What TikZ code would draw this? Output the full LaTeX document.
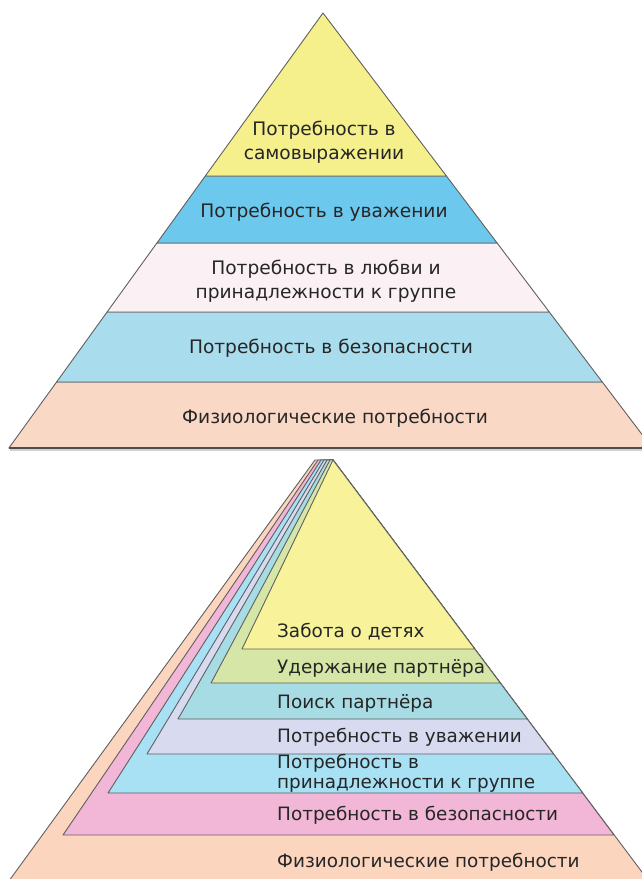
\documentclass[tikz,border=0pt]{standalone}
\usepackage{fontspec}
\setmainfont{DejaVu Sans}
\definecolor{tyellow}{HTML}{F5F08C}
\definecolor{tblue}{HTML}{6CC8EC}
\definecolor{twhite}{HTML}{FBF1F4}
\definecolor{tlblue}{HTML}{A9DCEC}
\definecolor{tpeach}{HTML}{FAD8C6}
\definecolor{byellow}{HTML}{F8F39A}
\definecolor{bgreen}{HTML}{D6E6A6}
\definecolor{bteal}{HTML}{A8DCE4}
\definecolor{blav}{HTML}{D8DBF0}
\definecolor{blblue}{HTML}{A8E0F4}
\definecolor{bpink}{HTML}{F2B6D6}
\definecolor{bpeach}{HTML}{FBD5BE}
\definecolor{edge}{HTML}{606060}
\definecolor{txt}{HTML}{262626}
\begin{document}
\begin{tikzpicture}[x=1pt,y=-1pt,
  layer/.style={draw=edge, line width=0.9pt, line join=round},
  lbl/.style={inner sep=0pt, text=txt, font=\fontsize{18.6}{23.5}\selectfont},
  lblb/.style={inner sep=0pt, text=txt, font=\fontsize{18.4}{20}\selectfont, anchor=west, align=left},
]
\useasboundingbox (0,0) rectangle (642,879);
\fill[white] (0,0) rectangle (642,879);
\begin{scope}
\clip (0,0) rectangle (642,879);
% ---------- top pyramid ----------
\draw[draw=black!18, line width=2pt] (10,449.6) -- (652,449.6);
\path[layer, fill=tpeach] (56.6,382) -- (602.3,382) -- (652.3,448) -- (8.9,448) -- cycle;
\path[layer, fill=tlblue] (107.1,312) -- (549.3,312) -- (602.3,382) -- (56.6,382) -- cycle;
\path[layer, fill=twhite] (156.9,243) -- (497.1,243) -- (549.3,312) -- (107.1,312) -- cycle;
\path[layer, fill=tblue] (205.3,176) -- (446.4,176) -- (497.1,243) -- (156.9,243) -- cycle;
\path[layer, fill=tyellow] (323,13) -- (446.4,176) -- (205.3,176) -- cycle;
\draw[draw=edge!80!black, line width=1.3pt] (8.9,448) -- (652,448);

\node[lbl, align=center] (t1) at (324,142) {Потребность в\\самовыражении};
\node[lbl] (t2) at (324,212) {Потребность в уважении};
\node[lbl, align=center] (t3) at (326,281) {Потребность в любви и\\принадлежности к группе};
\node[lbl] (t4) at (331,348) {Потребность в безопасности};
\node[lbl] (t5) at (335,418) {Физиологические потребности};

% ---------- bottom pyramid ----------
\path[layer, fill=bpeach] (315,460) -- (333,460) -- (660,896) -- (-2,896) -- cycle;
\path[layer, fill=bpink] (318,460) -- (333,460) -- (614,835) -- (63,835) -- cycle;
\path[layer, fill=blblue] (321,460) -- (333,460) -- (582.8,793) -- (108,793) -- cycle;
\path[layer, fill=blav] (324,460) -- (333,460) -- (553.5,754) -- (147,754) -- cycle;
\path[layer, fill=bteal] (327,460) -- (333,460) -- (527.3,719) -- (178,719) -- cycle;
\path[layer, fill=bgreen] (330,460) -- (333,460) -- (500.3,683) -- (211,683) -- cycle;
\path[layer, fill=byellow] (333,460) -- (474.8,649) -- (242,649) -- cycle;

\node[lblb] (b1) at (277,632) {Забота о детях};
\node[lblb] (b2) at (277,668) {Удержание партнёра};
\node[lblb] (b3) at (277,703) {Поиск партнёра};
\node[lblb] (b4) at (277,737) {Потребность в уважении};
\node[lblb] (b5) at (277,773) {Потребность в\\принадлежности к группе};
\node[lblb] (b6) at (277,815) {Потребность в безопасности};
\node[lblb] (b7) at (277,862) {Физиологические потребности};
\end{scope}
\end{tikzpicture}
\end{document}
